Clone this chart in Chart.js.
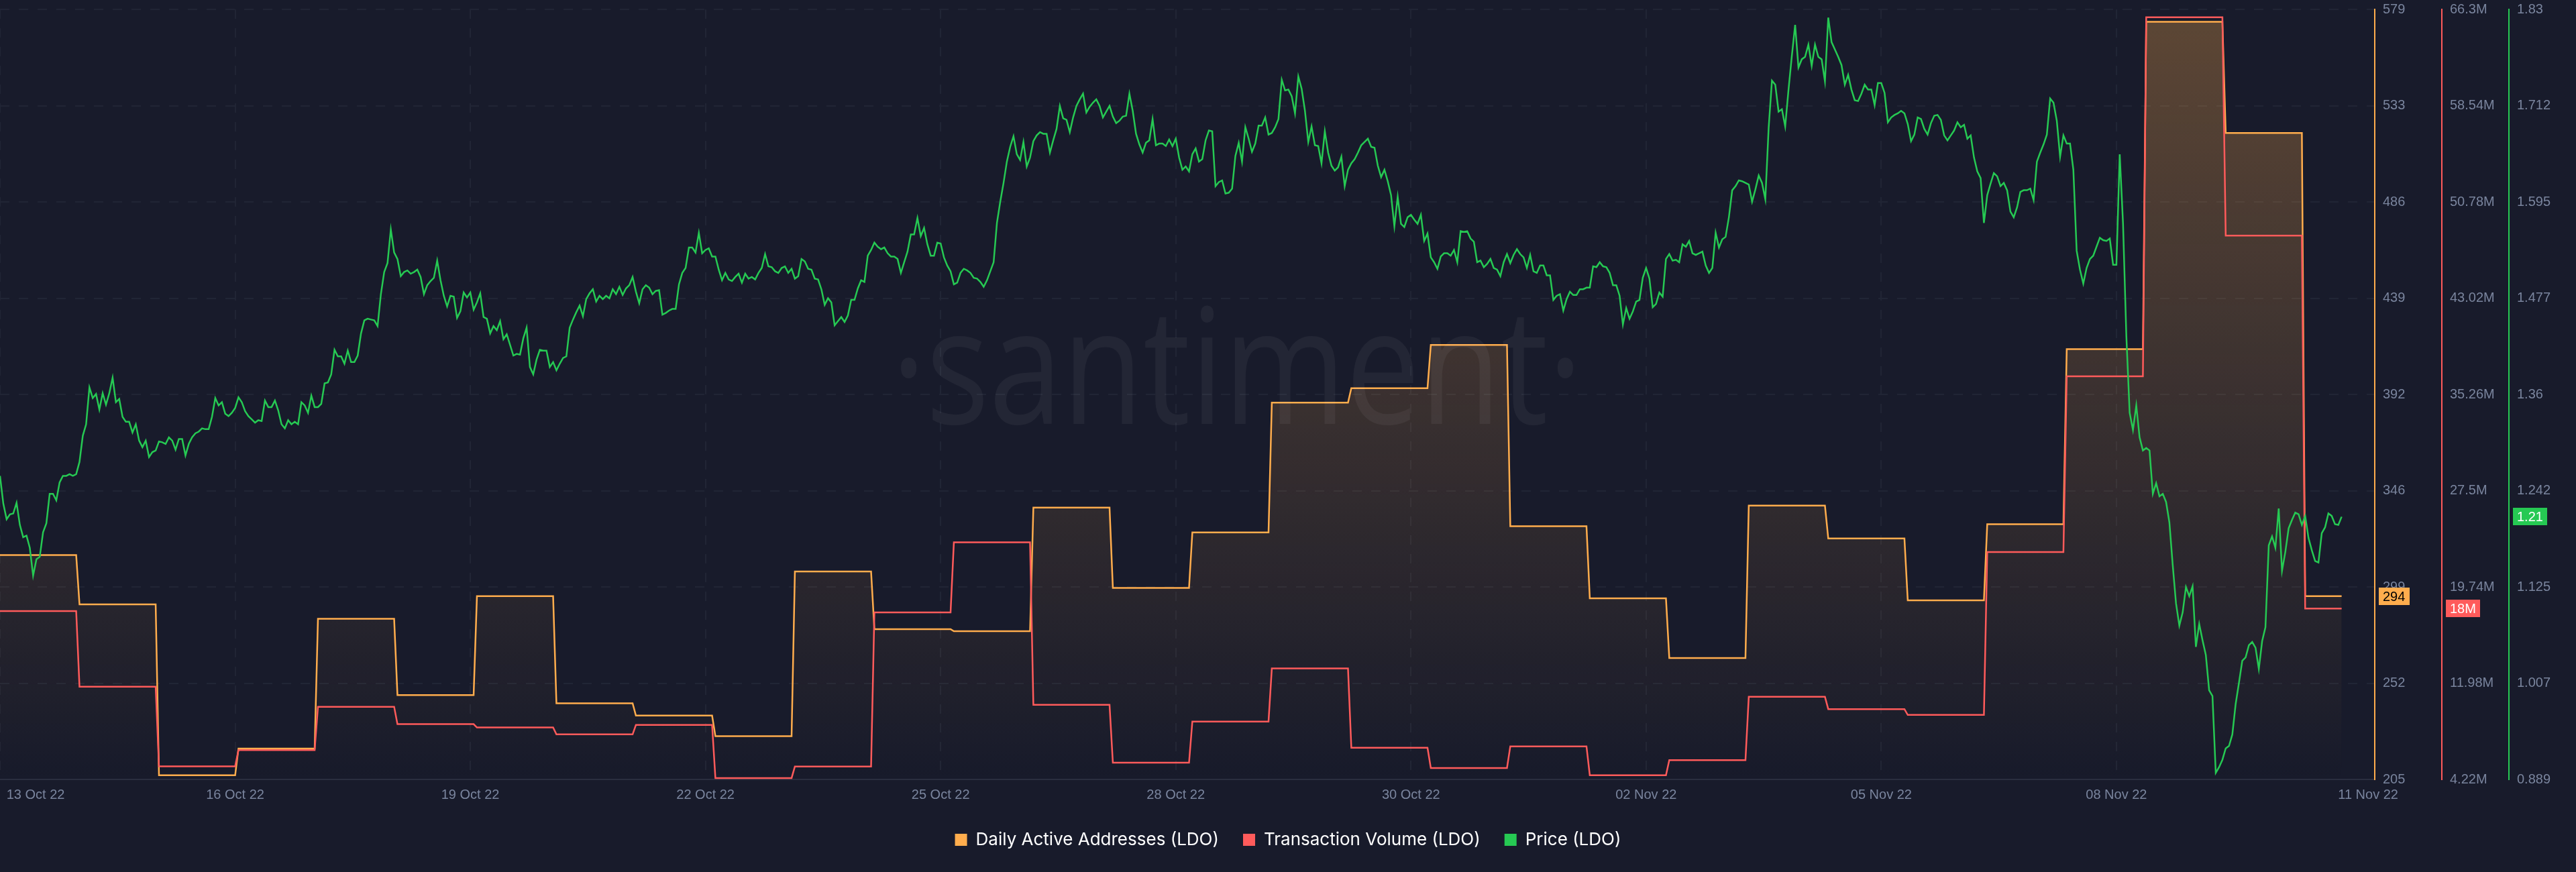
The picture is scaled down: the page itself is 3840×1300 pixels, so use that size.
<!DOCTYPE html>
<html>
<head>
<meta charset="utf-8">
<title>LDO</title>
<script src="https://cdn.jsdelivr.net/npm/chart.js@4"></script>
<style>
  html, body { margin: 0; padding: 0; background: #181b2b; }
  canvas { display: block; }
</style>
</head>
<body>
<canvas id="chart" width="3840" height="1300"></canvas>
<script>
// one value per day
const activeAddresses = [314,290,207,220,283,246,294,242,236,226,306,278,277,337,298,325,388,395,416,328,293,264,338,322,292,329,414,573,519,294];
const txVolume = [17.8,11.7,5.27,6.58,10.08,8.68,8.41,7.85,8.61,4.33,5.26,17.69,23.34,10.23,5.57,8.89,13.17,6.77,5.14,6.89,4.56,5.77,10.88,9.89,9.42,22.55,36.72,65.67,48.06,18];

// one value per hour
const price = [
  1.260,1.226,1.207,1.213,1.214,1.227,1.200,1.185,1.187,1.172,
  1.138,1.158,1.161,1.191,1.202,1.238,1.238,1.230,1.252,1.260,
  1.260,1.262,1.260,1.262,1.277,1.309,1.323,1.368,1.355,1.360,
  1.341,1.361,1.347,1.361,1.380,1.350,1.354,1.332,1.326,1.326,
  1.313,1.323,1.303,1.295,1.303,1.283,1.289,1.291,1.302,1.301,
  1.299,1.307,1.303,1.292,1.305,1.305,1.285,1.299,1.307,1.312,
  1.314,1.318,1.317,1.317,1.332,1.355,1.346,1.350,1.336,1.333,
  1.337,1.343,1.356,1.350,1.339,1.333,1.329,1.325,1.328,1.327,
  1.352,1.344,1.344,1.352,1.340,1.323,1.318,1.328,1.323,1.326,
  1.323,1.350,1.346,1.337,1.358,1.344,1.344,1.348,1.373,1.374,
  1.384,1.414,1.406,1.406,1.397,1.413,1.399,1.399,1.407,1.434,
  1.450,1.452,1.451,1.450,1.443,1.482,1.509,1.520,1.561,1.533,
  1.525,1.504,1.509,1.511,1.507,1.509,1.512,1.503,1.482,1.493,
  1.498,1.502,1.523,1.499,1.480,1.467,1.480,1.479,1.453,1.461,
  1.484,1.478,1.484,1.463,1.472,1.483,1.454,1.452,1.434,1.443,
  1.438,1.449,1.427,1.433,1.420,1.407,1.409,1.408,1.428,1.441,
  1.393,1.384,1.402,1.414,1.413,1.413,1.393,1.399,1.389,1.397,
  1.404,1.406,1.441,1.451,1.460,1.468,1.455,1.476,1.483,1.488,
  1.473,1.480,1.476,1.480,1.477,1.488,1.482,1.491,1.481,1.489,
  1.493,1.503,1.485,1.471,1.488,1.493,1.490,1.482,1.486,1.487,
  1.457,1.459,1.462,1.464,1.464,1.494,1.508,1.514,1.539,1.539,
  1.533,1.557,1.532,1.536,1.538,1.528,1.528,1.512,1.499,1.508,
  1.500,1.498,1.503,1.507,1.496,1.507,1.501,1.503,1.500,1.508,
  1.514,1.531,1.516,1.515,1.510,1.508,1.514,1.516,1.508,1.513,
  1.501,1.504,1.525,1.522,1.513,1.512,1.501,1.500,1.488,1.469,
  1.477,1.472,1.444,1.449,1.454,1.448,1.456,1.475,1.475,1.489,
  1.499,1.497,1.529,1.536,1.545,1.540,1.537,1.539,1.532,1.528,
  1.528,1.525,1.508,1.521,1.534,1.555,1.555,1.575,1.553,1.563,
  1.543,1.529,1.529,1.545,1.544,1.527,1.517,1.510,1.494,1.496,
  1.508,1.513,1.511,1.508,1.502,1.501,1.497,1.491,1.499,1.510,
  1.521,1.569,1.595,1.618,1.644,1.662,1.675,1.653,1.646,1.668,
  1.638,1.649,1.669,1.676,1.680,1.678,1.678,1.655,1.670,1.684,
  1.712,1.697,1.695,1.680,1.698,1.712,1.720,1.727,1.704,1.711,
  1.716,1.720,1.712,1.698,1.705,1.712,1.699,1.691,1.694,1.699,
  1.700,1.727,1.706,1.678,1.665,1.655,1.667,1.670,1.696,1.664,
  1.666,1.666,1.663,1.671,1.663,1.672,1.649,1.634,1.638,1.632,
  1.653,1.660,1.644,1.647,1.670,1.682,1.681,1.614,1.619,1.621,
  1.605,1.606,1.611,1.651,1.667,1.644,1.686,1.672,1.656,1.666,
  1.688,1.688,1.698,1.677,1.679,1.686,1.696,1.744,1.731,1.732,
  1.724,1.703,1.748,1.733,1.706,1.668,1.687,1.664,1.663,1.642,
  1.681,1.655,1.639,1.633,1.637,1.650,1.614,1.634,1.642,1.647,
  1.655,1.664,1.668,1.672,1.662,1.661,1.639,1.625,1.634,1.620,
  1.603,1.565,1.601,1.568,1.564,1.576,1.579,1.573,1.568,1.579,
  1.547,1.556,1.527,1.521,1.513,1.528,1.532,1.532,1.529,1.536,
  1.521,1.559,1.558,1.559,1.550,1.546,1.521,1.523,1.515,1.519,
  1.525,1.514,1.512,1.504,1.521,1.531,1.520,1.530,1.537,1.531,
  1.527,1.514,1.530,1.510,1.508,1.517,1.517,1.505,1.505,1.475,
  1.480,1.482,1.462,1.476,1.485,1.481,1.481,1.488,1.488,1.490,
  1.490,1.516,1.515,1.521,1.516,1.515,1.508,1.493,1.493,1.480,
  1.445,1.465,1.452,1.461,1.473,1.475,1.502,1.514,1.501,1.466,
  1.470,1.484,1.479,1.525,1.531,1.523,1.524,1.521,1.543,1.540,
  1.547,1.532,1.530,1.532,1.534,1.517,1.508,1.514,1.557,1.539,
  1.549,1.552,1.576,1.609,1.614,1.621,1.620,1.618,1.616,1.595,
  1.610,1.627,1.618,1.598,1.685,1.743,1.738,1.705,1.708,1.687,
  1.732,1.773,1.811,1.759,1.769,1.772,1.787,1.761,1.787,1.772,
  1.769,1.742,1.820,1.790,1.781,1.772,1.762,1.738,1.750,1.732,
  1.719,1.718,1.727,1.738,1.732,1.732,1.713,1.740,1.740,1.728,
  1.692,1.698,1.701,1.703,1.706,1.703,1.690,1.669,1.677,1.698,
  1.696,1.684,1.677,1.691,1.700,1.701,1.695,1.676,1.670,1.676,
  1.682,1.692,1.686,1.689,1.672,1.676,1.649,1.632,1.624,1.569,
  1.603,1.617,1.630,1.626,1.614,1.618,1.609,1.583,1.576,1.588,
  1.607,1.609,1.609,1.611,1.597,1.644,1.655,1.665,1.677,1.721,
  1.716,1.694,1.650,1.676,1.666,1.666,1.634,1.535,1.512,1.495,
  1.514,1.525,1.529,1.540,1.551,1.548,1.547,1.550,1.518,1.518,
  1.653,1.568,1.431,1.337,1.316,1.346,1.307,1.291,1.294,1.291,
  1.238,1.251,1.235,1.238,1.228,1.203,1.151,1.104,1.077,1.093,
  1.124,1.113,1.125,1.051,1.079,1.059,1.041,0.998,0.991,0.897,
  0.904,0.913,0.927,0.930,0.944,0.981,1.007,1.034,1.038,1.053,
  1.057,1.050,1.024,1.058,1.075,1.175,1.186,1.172,1.220,1.144,
  1.167,1.196,1.206,1.215,1.213,1.200,1.211,1.184,1.169,1.156,
  1.154,1.190,1.197,1.214,1.211,1.201,1.200,1.210
];

const dateHours = [0, 10.75, 71, 142, 213, 284, 355, 426, 497, 568, 639, 715];
const dateLabels = ["", "13 Oct 22", "16 Oct 22", "19 Oct 22", "22 Oct 22", "25 Oct 22", "28 Oct 22", "30 Oct 22", "02 Nov 22", "05 Nov 22", "08 Nov 22", "11 Nov 22"];

const addressTicks = ["205", "252", "299", "346", "392", "439", "486", "533", "579"];
const volumeTicks = ["4.22M", "11.98M", "19.74M", "27.5M", "35.26M", "43.02M", "50.78M", "58.54M", "66.3M"];
const priceTicks = ["0.889", "1.007", "1.125", "1.242", "1.36", "1.477", "1.595", "1.712", "1.83"];

const ORANGE = "#ffad4d";
const RED = "#ff5b5b";
const GREEN = "#26c953";
const GRID = "#212535";
const TICK = "#7a859e";
const SANS = "'Liberation Sans'";
const LAST_HOUR = price.length - 1;

// daily metrics sit flat for the day and move to the next level in the last hour
function dailySteps(values) {
    const points = [];
    values.forEach(function(value, day) {
        points.push({ x: day * 24, y: value });
        points.push({ x: Math.min(day * 24 + 23, LAST_HOUR), y: value });
    });
    return points;
}

function addressFill(context) {
    const area = context.chart.chartArea;
    if (!area) {
        return "rgba(255,173,77,0.15)";
    }
    const gradient = context.chart.ctx.createLinearGradient(0, area.top, 0, area.bottom);
    gradient.addColorStop(0, "rgba(255,173,77,0.3)");
    gradient.addColorStop(1, "rgba(255,173,77,0)");
    return gradient;
}

// labels may overflow the plot, keep the layout from shrinking it for them
function clearPadding(scale) {
    scale.paddingTop = 0;
    scale.paddingBottom = 0;
    scale.paddingLeft = 0;
    scale.paddingRight = 0;
}

function valueAxis(labels, min, max, axisColor, showGrid) {
    return {
        position: "right",
        min: min,
        max: max,
        afterFit: function(scale) {
            scale.width = 100;
            clearPadding(scale);
        },
        afterBuildTicks: function(scale) {
            scale.ticks = labels.map(function(label, i) {
                return { value: min + i * (max - min) / (labels.length - 1) };
            });
        },
        grid: { display: showGrid, color: GRID, drawTicks: false, lineWidth: 2 },
        border: { display: true, color: axisColor, width: 2, dash: [14, 14] },
        ticks: {
            autoSkip: false,
            padding: 12,
            color: TICK,
            font: { family: SANS, size: 20 },
            callback: function(value, index) { return labels[index]; }
        }
    };
}

const watermark = {
    id: "watermark",
    afterDatasetsDraw: function(chart) {
        const ctx = chart.ctx;
        ctx.save();
        ctx.translate(1844, 632);
        ctx.scale(0.82, 1);
        ctx.font = "240px 'Open Sans'";
        ctx.textAlign = "center";
        ctx.textBaseline = "alphabetic";
        ctx.fillStyle = "rgba(255,255,255,0.05)";
        ctx.fillText("\u00b7santiment\u00b7", 0, 0);
        ctx.restore();
    }
};

// last value tags on the axes
const lastValueTags = {
    id: "lastValueTags",
    afterDraw: function(chart) {
        const ctx = chart.ctx;
        const tags = [
            { scale: "addresses", value: activeAddresses[activeAddresses.length - 1], text: "294", fill: ORANGE, color: "#000000", width: 46 },
            { scale: "volume", value: txVolume[txVolume.length - 1], text: "18M", fill: RED, color: "#ffffff", width: 51 },
            { scale: "price", value: price[LAST_HOUR], text: "1.21", fill: GREEN, color: "#ffffff", width: 51 }
        ];
        ctx.save();
        ctx.font = "20px " + SANS;
        ctx.textBaseline = "middle";
        ctx.textAlign = "left";
        tags.forEach(function(tag) {
            const scale = chart.scales[tag.scale];
            const y = Math.round(scale.getPixelForValue(tag.value));
            ctx.fillStyle = tag.fill;
            ctx.fillRect(scale.left + 6, y - 13, tag.width, 26);
            ctx.fillStyle = tag.color;
            ctx.fillText(tag.text, scale.left + 12, y + 1);
        });
        ctx.restore();
    }
};

new Chart(document.getElementById("chart"), {
    type: "line",
    data: {
        datasets: [
            {
                label: "Daily Active Addresses (LDO)",
                data: dailySteps(activeAddresses),
                yAxisID: "addresses",
                borderColor: ORANGE,
                backgroundColor: addressFill,
                fill: "start",
                order: 3
            },
            {
                label: "Transaction Volume (LDO)",
                data: dailySteps(txVolume),
                yAxisID: "volume",
                borderColor: RED,
                fill: false,
                order: 2
            },
            {
                label: "Price (LDO)",
                data: price.map(function(value, hour) { return { x: hour, y: value }; }),
                yAxisID: "price",
                borderColor: GREEN,
                fill: false,
                order: 1
            }
        ]
    },
    options: {
        responsive: false,
        devicePixelRatio: 1,
        animation: false,
        parsing: false,
        normalized: true,
        elements: {
            point: { radius: 0 },
            line: { borderWidth: 2.5, tension: 0, borderJoinStyle: "miter" }
        },
        layout: {
            autoPadding: false,
            padding: { top: 14, left: 0, right: 0, bottom: 25 }
        },
        scales: {
            x: {
                type: "linear",
                min: 0,
                max: 717,
                afterFit: function(scale) {
                    scale.height = 41;
                    clearPadding(scale);
                },
                afterBuildTicks: function(scale) {
                    scale.ticks = dateHours.map(function(hour) { return { value: hour }; });
                },
                grid: {
                    drawTicks: false,
                    lineWidth: 2,
                    // the 13 and 11 labels are pulled inside the page, no grid line under them
                    color: function(context) {
                        const hidden = context.index === 1 || context.index === dateHours.length - 1;
                        return hidden ? "rgba(0,0,0,0)" : GRID;
                    }
                },
                border: { display: true, color: "#2a2e3f", width: 2, dash: [14, 14] },
                ticks: {
                    autoSkip: false,
                    maxRotation: 0,
                    padding: 11,
                    color: TICK,
                    font: { family: SANS, size: 20 },
                    callback: function(value, index) { return dateLabels[index]; }
                }
            },
            addresses: valueAxis(addressTicks, 205, 579, ORANGE, true),
            volume: valueAxis(volumeTicks, 4.22, 66.3, RED, false),
            price: valueAxis(priceTicks, 0.889, 1.83, GREEN, false)
        },
        plugins: {
            tooltip: { enabled: false },
            legend: {
                position: "bottom",
                labels: {
                    boxWidth: 18,
                    boxHeight: 18,
                    padding: 36,
                    color: "#ffffff",
                    font: { family: "Inter", size: 26 },
                    generateLabels: function(chart) {
                        const colors = [ORANGE, RED, GREEN];
                        return chart.data.datasets.map(function(dataset, i) {
                            return {
                                text: dataset.label,
                                fillStyle: colors[i],
                                strokeStyle: "rgba(0,0,0,0)",
                                fontColor: "#ffffff",
                                lineWidth: 0,
                                datasetIndex: i
                            };
                        });
                    }
                }
            }
        }
    },
    plugins: [watermark, lastValueTags]
});
</script>
</body>
</html>
